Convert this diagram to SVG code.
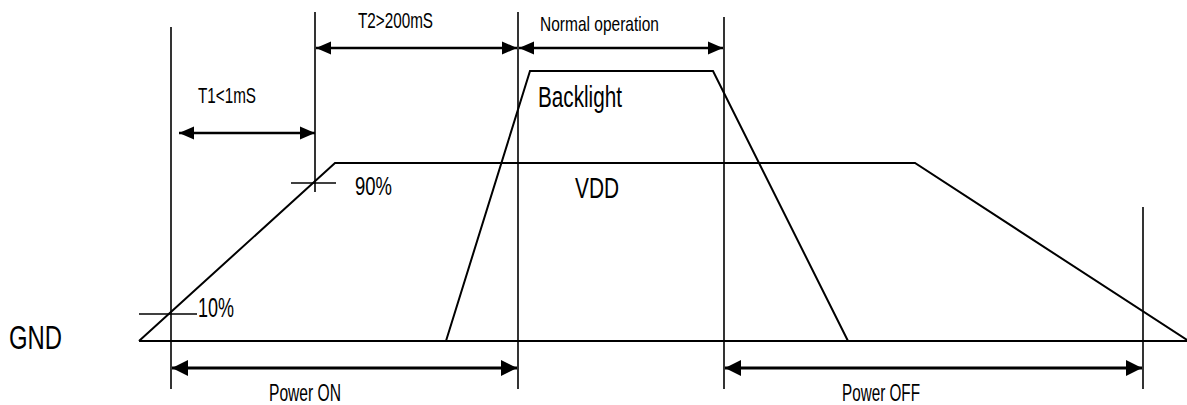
<svg xmlns="http://www.w3.org/2000/svg" width="1187" height="405" viewBox="0 0 1187 405">
<style>
.ln{stroke:#000;stroke-width:1.6;fill:none}
.wv{stroke:#000;stroke-width:2;fill:none;stroke-linejoin:miter}
.ar{stroke:#000;stroke-width:2.4;fill:none}
.arb{stroke:#000;stroke-width:3.2;fill:none}
text{font-family:"Liberation Sans",Arial,sans-serif;fill:#000}
</style>
<defs>
<marker id="ah" markerUnits="userSpaceOnUse" markerWidth="16" markerHeight="16" viewBox="0 0 16 16" refX="15" refY="8" orient="auto-start-reverse">
<path d="M0,1.5 L15,8 L0,14.5 Z" fill="#000"/>
</marker>
<marker id="ahb" markerUnits="userSpaceOnUse" markerWidth="17" markerHeight="18" viewBox="0 0 17 18" refX="16" refY="9" orient="auto-start-reverse">
<path d="M0,1 L16,9 L0,17 Z" fill="#000"/>
</marker>
</defs>
<g id="gridlines">
<line class="ln" x1="171" y1="27" x2="171" y2="389"/>
<line class="ln" x1="315" y1="12" x2="315" y2="192"/>
<line class="ln" x1="518" y1="12" x2="518" y2="389"/>
<line class="ln" x1="724" y1="17" x2="724" y2="389"/>
<line class="ln" x1="1143" y1="207" x2="1143" y2="389"/>
<line class="ln" x1="291" y1="183" x2="336" y2="183"/>
<line class="ln" x1="139" y1="314" x2="197" y2="314"/>
</g>
<g id="gnd">
<line class="wv" x1="139" y1="341" x2="1187" y2="341"/>
<text x="9" y="349" font-size="33" textLength="53" lengthAdjust="spacingAndGlyphs">GND</text>
</g>
<g id="vdd">
<polyline class="wv" points="139,341 335,163 915,163 1187,340"/>
<text x="575" y="198" font-size="29" textLength="44" lengthAdjust="spacingAndGlyphs">VDD</text>
<text x="355" y="195" font-size="26" textLength="37" lengthAdjust="spacingAndGlyphs">90%</text>
<text x="198" y="317" font-size="27" textLength="36" lengthAdjust="spacingAndGlyphs">10%</text>
</g>
<g id="backlight">
<polyline class="wv" points="446,341 530,71 713,71 848,341"/>
<text x="538" y="107" font-size="29" textLength="84" lengthAdjust="spacingAndGlyphs">Backlight</text>
</g>
<g id="connectors">
<line class="ar" x1="179" y1="133" x2="315" y2="133" marker-start="url(#ah)" marker-end="url(#ah)"/>
<line class="ar" x1="316" y1="48" x2="517" y2="48" marker-start="url(#ah)" marker-end="url(#ah)"/>
<line class="ar" x1="519" y1="48" x2="723" y2="48" marker-start="url(#ah)" marker-end="url(#ah)"/>
<line class="arb" x1="172" y1="368" x2="517" y2="368" marker-start="url(#ahb)" marker-end="url(#ahb)"/>
<line class="arb" x1="725" y1="368" x2="1142" y2="368" marker-start="url(#ahb)" marker-end="url(#ahb)"/>
</g>
<g id="labels">
<text x="198" y="103" font-size="22" textLength="58" lengthAdjust="spacingAndGlyphs">T1&lt;1mS</text>
<text x="358" y="28" font-size="22" textLength="75" lengthAdjust="spacingAndGlyphs">T2&gt;200mS</text>
<text x="540" y="31" font-size="21" textLength="119" lengthAdjust="spacingAndGlyphs">Normal operation</text>
<text x="269" y="401" font-size="23" textLength="72" lengthAdjust="spacingAndGlyphs">Power ON</text>
<text x="842" y="401" font-size="23" textLength="78" lengthAdjust="spacingAndGlyphs">Power OFF</text>
</g>
</svg>
